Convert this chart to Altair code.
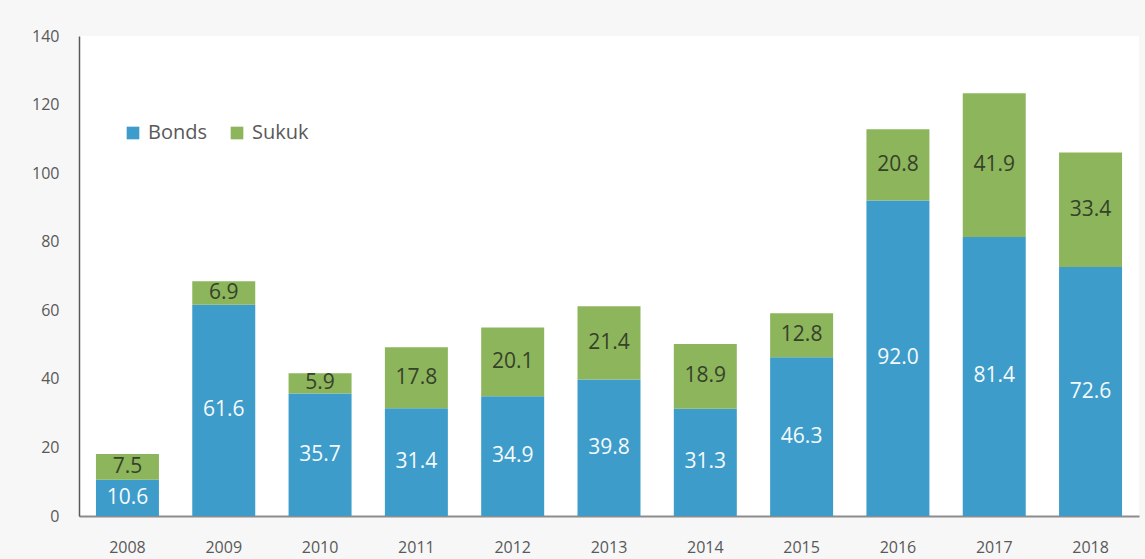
import altair as alt
import pandas as pd

years = ["2008", "2009", "2010", "2011", "2012", "2013", "2014", "2015", "2016", "2017", "2018"]
bonds = [10.6, 61.6, 35.7, 31.4, 34.9, 39.8, 31.3, 46.3, 92.0, 81.4, 72.6]
sukuk = [7.5, 6.9, 5.9, 17.8, 20.1, 21.4, 18.9, 12.8, 20.8, 41.9, 33.4]
series = ["Bonds", "Sukuk"]
colors = ["#3d9cc9", "#8db55c"]

rows = []
for i, y in enumerate(years):
    rows.append({"year": y, "series": "Bonds", "value": bonds[i], "order": 0,
                 "start": 0.0, "end": bonds[i], "label": f"{bonds[i]:.1f}"})
    rows.append({"year": y, "series": "Sukuk", "value": sukuk[i], "order": 1,
                 "start": bonds[i], "end": bonds[i] + sukuk[i], "label": f"{sukuk[i]:.1f}"})
df = pd.DataFrame(rows)
df["mid"] = (df["start"] + df["end"]) / 2

FONT = "Open Sans"

x = alt.X("year:N", title=None, sort=years,
          scale=alt.Scale(paddingInner=0.346, paddingOuter=0.176),
          axis=alt.Axis(labelAngle=0, labelFontSize=16, labelColor="#595959", labelFont=FONT,
                        ticks=False, labelPadding=23, domainColor="#8c8c8c", domainWidth=2))
y = alt.Y("start:Q", title=None,
          scale=alt.Scale(domain=[0, 140], nice=False),
          axis=alt.Axis(values=list(range(0, 141, 20)), grid=False, ticks=False,
                        labelFontSize=16, labelColor="#595959", labelFont=FONT,
                        labelPadding=20, domainColor="#595959", domainWidth=1.5))

bars = alt.Chart(df).mark_bar().encode(
    x=x,
    y=y,
    y2="end:Q",
    color=alt.Color("series:N", scale=alt.Scale(domain=series, range=colors),
                    legend=alt.Legend(title=None, orient="none", legendX=44, legendY=87,
                                      direction="horizontal", symbolType="square",
                                      symbolSize=160, symbolStrokeWidth=0,
                                      labelFontSize=20, labelColor="#595959", labelFont=FONT,
                                      columnPadding=20, labelOffset=5)),
)

text = alt.Chart(df).mark_text(fontSize=21, font=FONT).encode(
    x=alt.X("year:N", sort=years),
    y=alt.Y("mid:Q"),
    text="label:N",
    color=alt.Color("series:N", scale=alt.Scale(domain=series, range=["#f4fafd", "#35422a"]),
                    legend=None),
)

chart = alt.layer(bars, text).resolve_scale(color="independent").properties(
    width=1060, height=480,
    background="#f7f7f7",
    padding={"left": 79, "top": 36, "right": 6, "bottom": 43},
    autosize=alt.AutoSizeParams(type="none"),
).configure_view(stroke=None, fill="#ffffff")

chart.save("out.html", embed_options={"renderer": "svg", "actions": False})
